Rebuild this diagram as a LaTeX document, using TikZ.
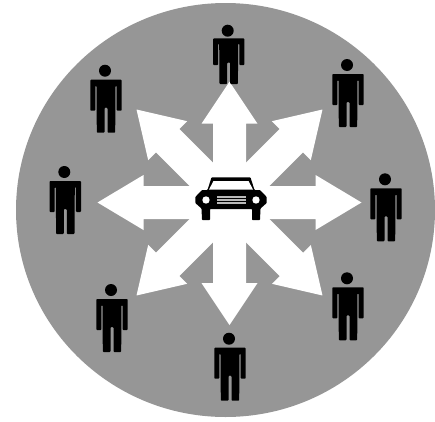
\documentclass[tikz,border=0pt]{standalone}
\definecolor{discgray}{gray}{0.59}
\tikzset{
  pics/person/.style={code={
    \fill (0,0) circle (6);
    \begin{scope}[xshift=0.1cm,yscale=#1]
    \fill[rounded corners=2.5] (-15.7,9) -- (15.7,9) -- (15.7,40) -- (10.6,40) -- (10.6,15) -- (9.5,15) -- (9.2,62) -- (1.5,62) -- (1.5,37) -- (-1.5,37) -- (-1.5,62) -- (-9.2,62) -- (-9.5,15) -- (-10.6,15) -- (-10.6,40) -- (-15.7,40) -- cycle;
    \end{scope}
  }},
  pics/person/.default=1,
  carpic/.pic={
    \fill[rounded corners=2] (-19.5,-21.6) -- (19.5,-21.6) -- (23.5,-9) -- (29,-9) -- (35.7,-2) -- (35.7,4) -- (29.5,9.5) -- (29,21) -- (21,21) -- (21,10) -- (-21,10) -- (-21,21) -- (-29,21) -- (-29.5,9.5) -- (-35.7,4) -- (-35.7,-2) -- (-29,-9) -- (-23.5,-9) -- cycle;
    \fill[white] (-17.5,-18) -- (17.5,-18) -- (22,-9.5) -- (-22,-9.5) -- cycle;
    \fill[white] (-25,1) circle (3.7);
    \fill[white] (25,1) circle (3.7);
    \foreach \ybar in {-2,1,4}
      \fill[gray!55] (-14.5,\ybar-0.6) rectangle (14.5,\ybar+0.6);
  }
}
\begin{document}
\begin{tikzpicture}[line cap=round,line join=round,x=0.1cm,y=-0.1cm]
  \useasboundingbox (0,0) rectangle (435,421);
  \fill[discgray] (225.5,210) ellipse (209.5 and 207);
  %fleches
  \foreach \ang/\len/\hl/\hw in {0/132/46/27.5,45/131.5/44/27.5,90/120.8/42/28,135/131.5/44/27.5,180/132/46/27.5,225/131.5/44/27.5,270/122.5/42/28,315/131.5/44/27.5}
    \fill[white,shift={(229.5,202.5)},rotate=\ang] (0,-16.5) -- (\len-\hl,-16.5) -- (\len-\hl,-\hw) -- (\len,0) -- (\len-\hl,\hw) -- (\len-\hl,16.5) -- (0,16.5) -- cycle;
  %personnes
  \foreach \px/\py in {105/70.7,347/65,385/179.3,347/278.3,229/338.7,111/290,64.3/172}
    \pic at (\px,\py) {person};
  \pic at (227.7,30.7) {person=0.86};
  \pic at (231,199) {carpic};
\end{tikzpicture}
\end{document}
